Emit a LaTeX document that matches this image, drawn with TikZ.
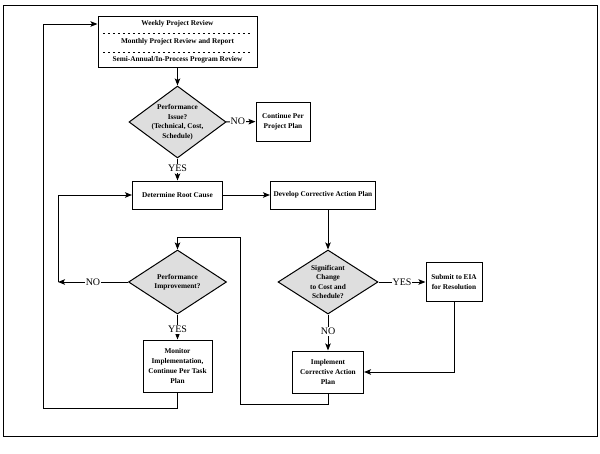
\documentclass[tikz,border=0pt]{standalone}
\usepackage{fontspec}
\setmainfont{Liberation Serif}
\usetikzlibrary{arrows.meta,shapes.geometric}

\begin{document}
\begin{tikzpicture}[x=1pt,y=-1pt,>={Stealth[length=7pt,width=5.5pt,inset=1.5pt]},line width=1pt,
  box/.style={rectangle,draw,fill=white,inner xsep=2pt,inner ysep=0pt,align=center,font=\fontsize{7.3}{10}\selectfont\bfseries},
  decision/.style={diamond,draw,fill=black!13,inner sep=0pt},
  dtext/.style={align=center,inner sep=0pt,font=\fontsize{7.3}{9.5}\selectfont\bfseries},
  sep/.style={line width=0.7pt,dash pattern=on 2pt off 3pt},
  flow/.style={->},
  lbl/.style={fill=white,inner sep=1pt,font=\fontsize{10}{10}\selectfont}]
  \useasboundingbox (0,0) rectangle (600,453);
  \draw[line width=1pt] (3,5) rectangle (597,436);

  % review box with three lines
  \node[box,minimum width=159,minimum height=51] (review) at (177.5,41.5) {};
  \node[dtext] (weekly) at (177.5,24) {Weekly Project Review};
  \node[dtext] (monthly) at (177.5,42) {Monthly Project Review and Report};
  \node[dtext] (semi) at (177.5,60) {Semi-Annual/In-Process Program Review};
  \draw[sep] (103,33) -- (252,33);
  \draw[sep] (103,52) -- (252,52);

  \node[decision,minimum width=97,minimum height=72,
    label={[dtext]center:{Performance\\Issue?\\(Technical, Cost,\\Schedule)}}] (perf) at (177.5,122) {};
  \node[box,minimum width=54,minimum height=39] (cont) at (283,121.5) {Continue Per\\Project Plan};
  \node[box,minimum width=90,minimum height=28] (root) at (177.5,195) {Determine Root Cause};
  \node[box,minimum width=105,minimum height=28] (dev) at (323,195) {Develop Corrective Action Plan};

  \node[decision,minimum width=98,minimum height=64,
    label={[dtext]center:{Performance\\Improvement?}}] (impr) at (177.5,282) {};
  \node[decision,minimum width=100,minimum height=64,
    label={[dtext]center:{Significant\\Change\\to Cost and\\Schedule?}}] (sig) at (328,282) {};
  \node[box,minimum width=56,minimum height=39] (sub) at (454,282) {Submit to EIA\\for Resolution};
  \node[box,minimum width=69,minimum height=52] (mon) at (177.5,366) {Monitor\\Implementation,\\Continue Per Task\\Plan};
  \node[box,minimum width=71,minimum height=42] (impl) at (328,372) {Implement\\Corrective Action\\Plan};
  \coordinate (back) at (58,282);

  % connectors
  \draw[flow] (review) -- (perf);
  \draw[flow] (perf) -- node[lbl,pos=0.4] {NO} (cont);
  \draw[flow] (perf) -- node[lbl,pos=0.45] {YES} (root);
  \draw[flow] (root) -- (dev);
  \draw[flow] (dev.south -| sig.north) -- (sig);
  \draw[flow] (impr) -- node[lbl] {NO} (back);
  \draw[flow] (back) |- (root);
  \draw[flow] (impr) -- node[lbl,pos=0.6] {YES} (mon);
  \draw[flow] (sig) -- node[lbl] {YES} (sub);
  \draw[flow] (sig) -- node[lbl,pos=0.47] {NO} (impl);
  \draw[flow] (sub) |- (impl);
  \draw[flow] (impl.south) -- ++(0,11) -| (240.5,237) -| (impr);
  \draw[flow] (mon.south) -- ++(0,16) -| (43,24) -- (review.west |- weekly);
\end{tikzpicture}
\end{document}
